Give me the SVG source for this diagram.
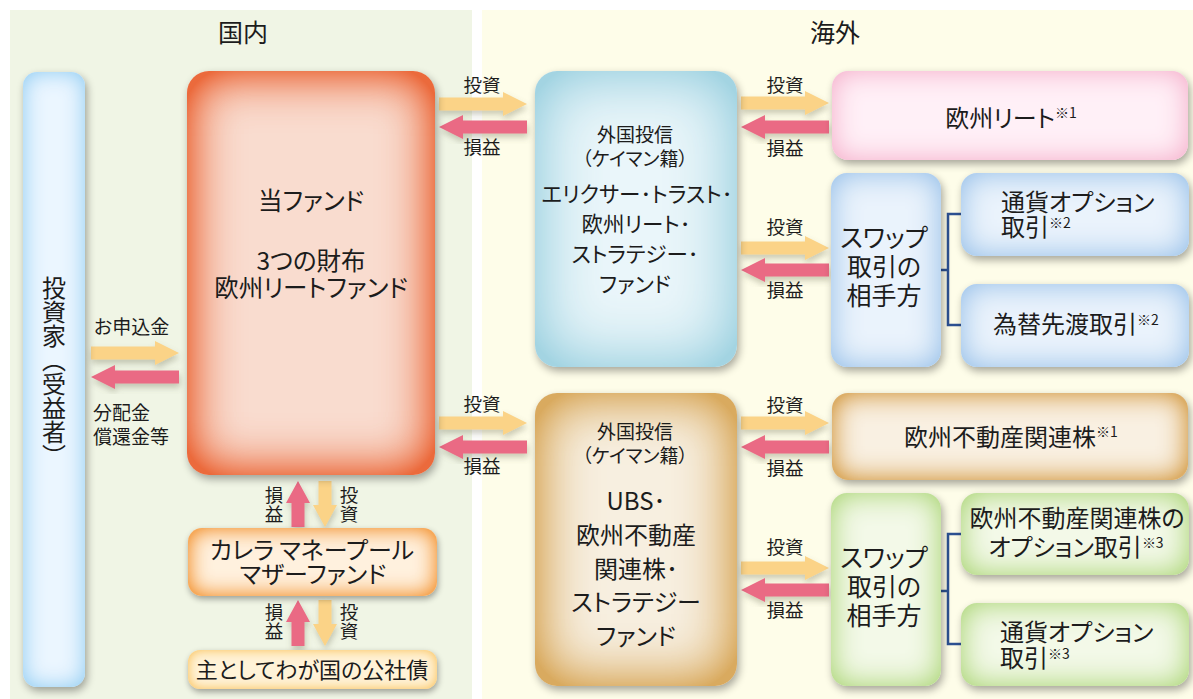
<svg xmlns="http://www.w3.org/2000/svg" width="1193" height="699" viewBox="0 0 1193 699">
<style>
text{font-family:"Noto Sans CJK JP","Noto Sans",sans-serif;fill:#1c1c1c;text-anchor:middle;font-feature-settings:"palt";font-weight:400}
.l{font-size:18.5px}.n{font-size:19px;text-anchor:start}.s{font-size:19px}
.m{font-size:24.5px}.t{font-size:25px}.b{font-size:24px}.st{text-anchor:start}
.sup{font-size:14px}
</style>
<defs>
<filter id="sh" x="-20%" y="-20%" width="140%" height="140%"><feDropShadow dx="1" dy="4" stdDeviation="3" flood-color="#6a6a50" flood-opacity=".35"/></filter>
<filter id="f-blue" x="-25%" y="-5%" width="150%" height="110%" color-interpolation-filters="sRGB"><feGaussianBlur in="SourceAlpha" stdDeviation="11" result="b"/><feComponentTransfer in="b" result="i"><feFuncA type="linear" slope="-1.5" intercept="1.5"/></feComponentTransfer><feFlood flood-color="#aad8f6"/><feComposite in2="i" operator="in"/><feComposite in2="SourceAlpha" operator="in" result="g"/><feOffset in="SourceAlpha" dx="2" dy="4"/><feGaussianBlur stdDeviation="4"/><feComponentTransfer result="s"><feFuncA type="linear" slope=".35"/></feComponentTransfer><feMerge><feMergeNode in="s"/><feMergeNode in="SourceGraphic"/><feMergeNode in="g"/></feMerge></filter>
<filter id="f-red" x="-10%" y="-10%" width="120%" height="120%" color-interpolation-filters="sRGB"><feGaussianBlur in="SourceAlpha" stdDeviation="26" result="b"/><feComponentTransfer in="b" result="i"><feFuncA type="linear" slope="-1.7" intercept="1.7"/></feComponentTransfer><feFlood flood-color="#eb6a3c"/><feComposite in2="i" operator="in"/><feComposite in2="SourceAlpha" operator="in" result="g"/><feOffset in="SourceAlpha" dx="2" dy="4"/><feGaussianBlur stdDeviation="4"/><feComponentTransfer result="s"><feFuncA type="linear" slope=".35"/></feComponentTransfer><feMerge><feMergeNode in="s"/><feMergeNode in="SourceGraphic"/><feMergeNode in="g"/></feMerge></filter>
<filter id="f-orange" x="-10%" y="-30%" width="120%" height="160%" color-interpolation-filters="sRGB"><feGaussianBlur in="SourceAlpha" stdDeviation="11" result="b"/><feComponentTransfer in="b" result="i"><feFuncA type="linear" slope="-1.7" intercept="1.7"/></feComponentTransfer><feFlood flood-color="#f6a95a"/><feComposite in2="i" operator="in"/><feComposite in2="SourceAlpha" operator="in" result="g"/><feOffset in="SourceAlpha" dx="1" dy="3"/><feGaussianBlur stdDeviation="3"/><feComponentTransfer result="s"><feFuncA type="linear" slope=".35"/></feComponentTransfer><feMerge><feMergeNode in="s"/><feMergeNode in="SourceGraphic"/><feMergeNode in="g"/></feMerge></filter>
<filter id="f-yellow" x="-10%" y="-40%" width="120%" height="190%" color-interpolation-filters="sRGB"><feGaussianBlur in="SourceAlpha" stdDeviation="6" result="b"/><feComponentTransfer in="b" result="i"><feFuncA type="linear" slope="-1.5" intercept="1.5"/></feComponentTransfer><feFlood flood-color="#fbcf7d"/><feComposite in2="i" operator="in"/><feComposite in2="SourceAlpha" operator="in" result="g"/><feOffset in="SourceAlpha" dx="1" dy="3"/><feGaussianBlur stdDeviation="3"/><feComponentTransfer result="s"><feFuncA type="linear" slope=".35"/></feComponentTransfer><feMerge><feMergeNode in="s"/><feMergeNode in="SourceGraphic"/><feMergeNode in="g"/></feMerge></filter>
<filter id="f-teal" x="-10%" y="-10%" width="120%" height="120%" color-interpolation-filters="sRGB"><feGaussianBlur in="SourceAlpha" stdDeviation="34" result="b"/><feComponentTransfer in="b" result="i"><feFuncA type="linear" slope="-1.6" intercept="1.6"/></feComponentTransfer><feFlood flood-color="#a3d4e2"/><feComposite in2="i" operator="in"/><feComposite in2="SourceAlpha" operator="in" result="g"/><feOffset in="SourceAlpha" dx="2" dy="4"/><feGaussianBlur stdDeviation="4"/><feComponentTransfer result="s"><feFuncA type="linear" slope=".35"/></feComponentTransfer><feMerge><feMergeNode in="s"/><feMergeNode in="SourceGraphic"/><feMergeNode in="g"/></feMerge></filter>
<filter id="f-tan" x="-10%" y="-10%" width="120%" height="120%" color-interpolation-filters="sRGB"><feGaussianBlur in="SourceAlpha" stdDeviation="30" result="b"/><feComponentTransfer in="b" result="i"><feFuncA type="linear" slope="-1.7" intercept="1.7"/></feComponentTransfer><feFlood flood-color="#d9aa5f"/><feComposite in2="i" operator="in"/><feComposite in2="SourceAlpha" operator="in" result="g"/><feOffset in="SourceAlpha" dx="2" dy="4"/><feGaussianBlur stdDeviation="4"/><feComponentTransfer result="s"><feFuncA type="linear" slope=".35"/></feComponentTransfer><feMerge><feMergeNode in="s"/><feMergeNode in="SourceGraphic"/><feMergeNode in="g"/></feMerge></filter>
<filter id="f-tanw" x="-10%" y="-20%" width="120%" height="140%" color-interpolation-filters="sRGB"><feGaussianBlur in="SourceAlpha" stdDeviation="14" result="b"/><feComponentTransfer in="b" result="i"><feFuncA type="linear" slope="-1.7" intercept="1.7"/></feComponentTransfer><feFlood flood-color="#dcae68"/><feComposite in2="i" operator="in"/><feComposite in2="SourceAlpha" operator="in" result="g"/><feOffset in="SourceAlpha" dx="2" dy="4"/><feGaussianBlur stdDeviation="4"/><feComponentTransfer result="s"><feFuncA type="linear" slope=".35"/></feComponentTransfer><feMerge><feMergeNode in="s"/><feMergeNode in="SourceGraphic"/><feMergeNode in="g"/></feMerge></filter>
<filter id="f-pink" x="-10%" y="-20%" width="120%" height="140%" color-interpolation-filters="sRGB"><feGaussianBlur in="SourceAlpha" stdDeviation="14" result="b"/><feComponentTransfer in="b" result="i"><feFuncA type="linear" slope="-1.6" intercept="1.6"/></feComponentTransfer><feFlood flood-color="#f8c3d8"/><feComposite in2="i" operator="in"/><feComposite in2="SourceAlpha" operator="in" result="g"/><feOffset in="SourceAlpha" dx="2" dy="4"/><feGaussianBlur stdDeviation="4"/><feComponentTransfer result="s"><feFuncA type="linear" slope=".35"/></feComponentTransfer><feMerge><feMergeNode in="s"/><feMergeNode in="SourceGraphic"/><feMergeNode in="g"/></feMerge></filter>
<filter id="f-sky" x="-15%" y="-20%" width="130%" height="140%" color-interpolation-filters="sRGB"><feGaussianBlur in="SourceAlpha" stdDeviation="15" result="b"/><feComponentTransfer in="b" result="i"><feFuncA type="linear" slope="-1.6" intercept="1.6"/></feComponentTransfer><feFlood flood-color="#b0cfee"/><feComposite in2="i" operator="in"/><feComposite in2="SourceAlpha" operator="in" result="g"/><feOffset in="SourceAlpha" dx="2" dy="4"/><feGaussianBlur stdDeviation="4"/><feComponentTransfer result="s"><feFuncA type="linear" slope=".35"/></feComponentTransfer><feMerge><feMergeNode in="s"/><feMergeNode in="SourceGraphic"/><feMergeNode in="g"/></feMerge></filter>
<filter id="f-green" x="-15%" y="-20%" width="130%" height="140%" color-interpolation-filters="sRGB"><feGaussianBlur in="SourceAlpha" stdDeviation="15" result="b"/><feComponentTransfer in="b" result="i"><feFuncA type="linear" slope="-1.6" intercept="1.6"/></feComponentTransfer><feFlood flood-color="#bfdf96"/><feComposite in2="i" operator="in"/><feComposite in2="SourceAlpha" operator="in" result="g"/><feOffset in="SourceAlpha" dx="2" dy="4"/><feGaussianBlur stdDeviation="4"/><feComponentTransfer result="s"><feFuncA type="linear" slope=".35"/></feComponentTransfer><feMerge><feMergeNode in="s"/><feMergeNode in="SourceGraphic"/><feMergeNode in="g"/></feMerge></filter>
<polygon id="ar" points="0,-6.5 64,-6.5 64,-12 88,0 64,12 64,6.5 0,6.5" fill="#fbd387" filter="url(#sh)"/>
<polygon id="al" points="88,-6.5 24,-6.5 24,-12 0,0 24,12 24,6.5 88,6.5" fill="#ea6a84" filter="url(#sh)"/>
<polygon id="au" points="-6.5,46 -6.5,22 -12,22 0,0 12,22 6.5,22 6.5,46" fill="#ea6a84" filter="url(#sh)"/>
<polygon id="ad" points="-6.5,0 6.5,0 6.5,24 12,24 0,46 -12,24 -6.5,24" fill="#fbd387" filter="url(#sh)"/>
</defs>
<rect width="1193" height="699" fill="#fff"/>
<rect id="domestic" x="10" y="10" width="462" height="689" fill="#f0f5e5"/>
<rect id="overseas" x="482" y="10" width="711" height="689" fill="#fefde9"/>
<text class="t" x="243" y="42">国内</text>
<text class="t" x="835" y="42">海外</text>

<g id="connectors">
<use href="#ar" x="91" y="353"/><use href="#al" x="91" y="377"/>
<use href="#ar" x="439" y="104"/><use href="#al" x="439" y="127"/>
<use href="#ar" x="439" y="423"/><use href="#al" x="439" y="447"/>
<use href="#ar" x="741" y="103"/><use href="#al" x="741" y="127"/>
<use href="#ar" x="741" y="248"/><use href="#al" x="741" y="270"/>
<use href="#ar" x="741" y="423"/><use href="#al" x="741" y="447"/>
<use href="#ar" x="741" y="568"/><use href="#al" x="741" y="590"/>
<use href="#au" x="298" y="481"/><use href="#ad" x="325" y="481"/>
<use href="#au" x="298" y="600"/><use href="#ad" x="325" y="600"/>
<path d="M941 270H948M961 214H948V325H961M941 591H948M961 534H948V644H961" fill="none" stroke="#2d5192" stroke-width="2.5"/>
<g class="l">
<text x="482" y="92">投資</text><text x="482" y="154">損益</text>
<text x="482" y="411">投資</text><text x="482" y="473">損益</text>
<text x="785" y="92">投資</text><text x="785" y="155">損益</text>
<text x="785" y="234">投資</text><text x="785" y="297">損益</text>
<text x="785" y="412">投資</text><text x="785" y="475">損益</text>
<text x="785" y="554">投資</text><text x="785" y="617">損益</text>
<text x="274" y="502">損</text><text x="274" y="521">益</text>
<text x="349" y="502">投</text><text x="349" y="521">資</text>
<text x="274" y="619">損</text><text x="274" y="638">益</text>
<text x="349" y="619">投</text><text x="349" y="638">資</text>
</g>
<text class="n" x="94" y="334">お申込金</text>
<text class="n" x="93" y="420">分配金</text><text class="n" x="93" y="444">償還金等</text>
</g>

<g id="investor"><rect x="23" y="72" width="62" height="615" rx="14" fill="#ebf6ff" filter="url(#f-blue)"/>
<text x="54" y="276" font-size="24" style="writing-mode:vertical-rl;text-anchor:start;font-feature-settings:normal">投資家（受益者）</text></g>
<g id="fund"><rect x="187" y="71" width="248" height="404" rx="22" fill="#f9dccf" filter="url(#f-red)"/>
<text class="m" x="311" y="210">当ファンド</text><text class="m" x="311" y="270">3つの財布</text><text class="m" x="311" y="297">欧州リートファンド</text></g>
<g id="mother"><rect x="188" y="528" width="249" height="68" rx="14" fill="#fff1de" filter="url(#f-orange)"/>
<text class="b" x="312" y="559">カレラ マネープール</text><text class="b" x="313" y="583">マザーファンド</text></g>
<g id="bond"><rect x="188" y="650" width="249" height="39" rx="12" fill="#fff3d8" filter="url(#f-yellow)"/>
<text x="312" y="678" font-size="22">主としてわが国の公社債</text></g>
<g id="vehicle1"><rect x="535" y="71" width="202" height="296" rx="22" fill="#eaf6fa" filter="url(#f-teal)"/>
<text class="s" x="635" y="142">外国投信</text><text class="s" x="635" y="166">（ケイマン籍）</text>
<text x="637" y="202" font-size="21.5">エリクサー･トラスト･</text><text x="636" y="232" font-size="21.5">欧州リート･</text><text x="635" y="262" font-size="21.5">ストラテジー･</text><text x="635" y="292" font-size="21.5">ファンド</text></g>
<g id="vehicle2"><rect x="535" y="393" width="202" height="293" rx="22" fill="#f7efe0" filter="url(#f-tan)"/>
<text class="s" x="635" y="439">外国投信</text><text class="s" x="635" y="463">（ケイマン籍）</text>
<text x="636" y="510" font-size="24">UBS･</text><text x="636" y="544" font-size="24">欧州不動産</text><text x="636" y="578" font-size="24">関連株･</text><text x="636" y="611" font-size="24">ストラテジー</text><text x="636" y="645" font-size="24">ファンド</text></g>
<g id="reit"><rect x="832" y="71" width="356" height="89" rx="16" fill="#fff0f7" filter="url(#f-pink)"/>
<text class="b" x="1011" y="127">欧州リート<tspan class="sup" dy="-9">※1</tspan></text></g>
<g id="swap1"><rect x="831" y="173" width="110" height="194" rx="16" fill="#eaf3fc" filter="url(#f-sky)"/>
<text class="t" x="884" y="247">スワップ</text><text class="t" x="884" y="276">取引の</text><text class="t" x="884" y="305">相手方</text></g>
<g id="currency1"><rect x="961" y="173" width="228" height="83" rx="16" fill="#eaf3fc" filter="url(#f-sky)"/>
<text class="b st" x="1001" y="211">通貨オプション</text><text class="b st" x="1001" y="236">取引<tspan class="sup" dy="-8">※2</tspan></text></g>
<g id="forward"><rect x="961" y="284" width="228" height="83" rx="16" fill="#eaf3fc" filter="url(#f-sky)"/>
<text class="b" x="1076" y="333">為替先渡取引<tspan class="sup" dy="-8">※2</tspan></text></g>
<g id="property"><rect x="832" y="393" width="356" height="87" rx="16" fill="#f9f0e2" filter="url(#f-tanw)"/>
<text class="b" x="1011" y="446">欧州不動産関連株<tspan class="sup" dy="-9">※1</tspan></text></g>
<g id="swap2"><rect x="831" y="493" width="110" height="193" rx="16" fill="#f3f9e8" filter="url(#f-green)"/>
<text class="t" x="884" y="567">スワップ</text><text class="t" x="884" y="596">取引の</text><text class="t" x="884" y="625">相手方</text></g>
<g id="option"><rect x="961" y="493" width="228" height="82" rx="16" fill="#f3f9e8" filter="url(#f-green)"/>
<text class="b" x="1077" y="527">欧州不動産関連株の</text><text class="b" x="1076" y="556">オプション取引<tspan class="sup" dy="-8">※3</tspan></text></g>
<g id="currency2"><rect x="961" y="603" width="228" height="83" rx="16" fill="#f3f9e8" filter="url(#f-green)"/>
<text class="b st" x="1000" y="641">通貨オプション</text><text class="b st" x="1000" y="667">取引<tspan class="sup" dy="-8">※3</tspan></text></g>
</svg>
